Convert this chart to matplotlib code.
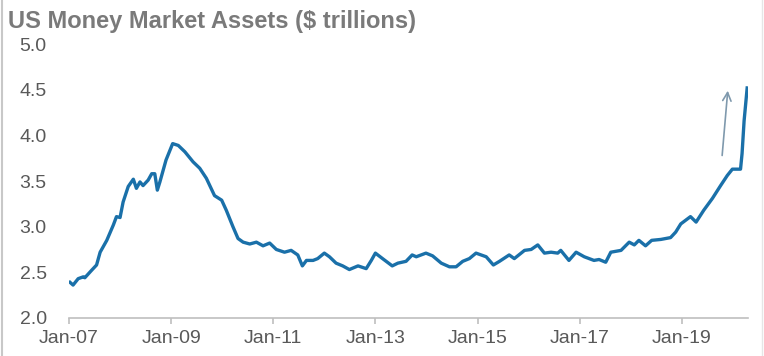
import numpy as np
import matplotlib.pyplot as plt
from matplotlib.lines import Line2D

# dados (ano decimal, US$ trilhoes)
anos = [
    2007.02, 2007.08, 2007.18, 2007.28, 2007.31, 2007.44, 2007.54, 2007.61,
    2007.74, 2007.87, 2007.93, 2008.00, 2008.06, 2008.16, 2008.26, 2008.32,
    2008.39, 2008.45, 2008.55, 2008.62, 2008.68, 2008.73, 2008.78, 2008.90,
    2009.03, 2009.14, 2009.27, 2009.43, 2009.56, 2009.69, 2009.85, 2009.99,
    2010.08, 2010.21, 2010.31, 2010.41, 2010.54, 2010.67, 2010.80, 2010.93,
    2011.06, 2011.22, 2011.35, 2011.48, 2011.57, 2011.65, 2011.78, 2011.87,
    2012.00, 2012.10, 2012.23, 2012.36, 2012.49, 2012.66, 2012.82, 2012.92,
    2013.00, 2013.14, 2013.33, 2013.44, 2013.60, 2013.72, 2013.80, 2013.99,
    2014.12, 2014.29, 2014.45, 2014.58, 2014.71, 2014.84, 2014.97, 2015.17,
    2015.31, 2015.43, 2015.62, 2015.72, 2015.92, 2016.05, 2016.18, 2016.31,
    2016.44, 2016.57, 2016.63, 2016.79, 2016.93, 2017.09, 2017.28, 2017.38,
    2017.51, 2017.61, 2017.81, 2017.97, 2018.07, 2018.16, 2018.29, 2018.41,
    2018.59, 2018.78, 2018.88, 2018.98, 2019.17, 2019.28, 2019.43, 2019.60,
    2019.76, 2019.89, 2019.99, 2020.15, 2020.18, 2020.22, 2020.28,
]
ativos = [
    2.39, 2.36, 2.43, 2.45, 2.44, 2.52, 2.58, 2.72,
    2.85, 3.02, 3.11, 3.10, 3.27, 3.44, 3.52, 3.42,
    3.49, 3.45, 3.51, 3.58, 3.58, 3.40, 3.49, 3.73,
    3.91, 3.89, 3.82, 3.71, 3.64, 3.53, 3.34, 3.29,
    3.18, 3.00, 2.87, 2.83, 2.81, 2.83, 2.79, 2.82,
    2.75, 2.72, 2.74, 2.69, 2.57, 2.63, 2.63, 2.65,
    2.71, 2.67, 2.60, 2.57, 2.53, 2.57, 2.54, 2.63,
    2.71, 2.65, 2.57, 2.60, 2.62, 2.69, 2.67, 2.71,
    2.68, 2.60, 2.56, 2.56, 2.62, 2.65, 2.71, 2.67,
    2.58, 2.62, 2.69, 2.65, 2.74, 2.75, 2.80, 2.71,
    2.72, 2.71, 2.74, 2.63, 2.72, 2.67, 2.63, 2.64,
    2.61, 2.72, 2.74, 2.83, 2.80, 2.85, 2.79, 2.85,
    2.86, 2.88, 2.94, 3.03, 3.11, 3.05, 3.18, 3.31,
    3.45, 3.56, 3.63, 3.63, 3.80, 4.16, 4.52,
]

ticks_x = [2007, 2009, 2011, 2013, 2015, 2017, 2019]
rotulos_x = ["Jan-07", "Jan-09", "Jan-11", "Jan-13", "Jan-15", "Jan-17", "Jan-19"]
ticks_y = [2.0, 2.5, 3.0, 3.5, 4.0, 4.5, 5.0]

# seta (inicio e fim)
seta_ini = (2019.79, 3.78)
seta_fim = (2019.90, 4.49)

plt.rcParams['font.family'] = ['Liberation Sans', 'DejaVu Sans']

fig = plt.figure(figsize=(7.64, 3.56), dpi=100)
ax = fig.add_axes([0.0903, 0.107, 0.889, 0.769])

ax.plot(anos, ativos, color='#1a70a9', linewidth=2.4, solid_joinstyle='round')

ax.annotate('', xy=seta_fim, xytext=seta_ini,
            arrowprops=dict(arrowstyle='->', color='#7f99ad', lw=1.2,
                            mutation_scale=15, shrinkA=0, shrinkB=0))

ax.set_xlim(2007.0, 2020.3)
ax.set_ylim(2.0, 5.0)
ax.set_xticks(ticks_x)
ax.set_xticklabels(rotulos_x)
ax.set_yticks(ticks_y)
ax.set_yticklabels([f"{v:.1f}" for v in ticks_y])

for s in ['top', 'right', 'left']:
    ax.spines[s].set_visible(False)
ax.spines['bottom'].set_color('#bfbfbf')
ax.spines['bottom'].set_linewidth(1.2)

ax.tick_params(axis='x', colors='#bfbfbf', labelcolor='#595959', labelsize=14,
               length=4, width=1.2, direction='out', pad=5)
ax.tick_params(axis='y', length=0, labelcolor='#595959', labelsize=14, pad=16)

fig.text(0.010, 0.972, "US Money Market Assets ($ trillions)", fontsize=17,
         fontweight='bold', color='#7a7a7a', ha='left', va='top')

# bordas da imagem original
fig.add_artist(Line2D([0.003, 0.003], [0, 1], color='#c8c8c8', lw=1.5,
                      transform=fig.transFigure))
fig.add_artist(Line2D([0.998, 0.998], [0, 1], color='#e6e6e6', lw=1.0,
                      transform=fig.transFigure))

fig.savefig('out.png', dpi=100)
